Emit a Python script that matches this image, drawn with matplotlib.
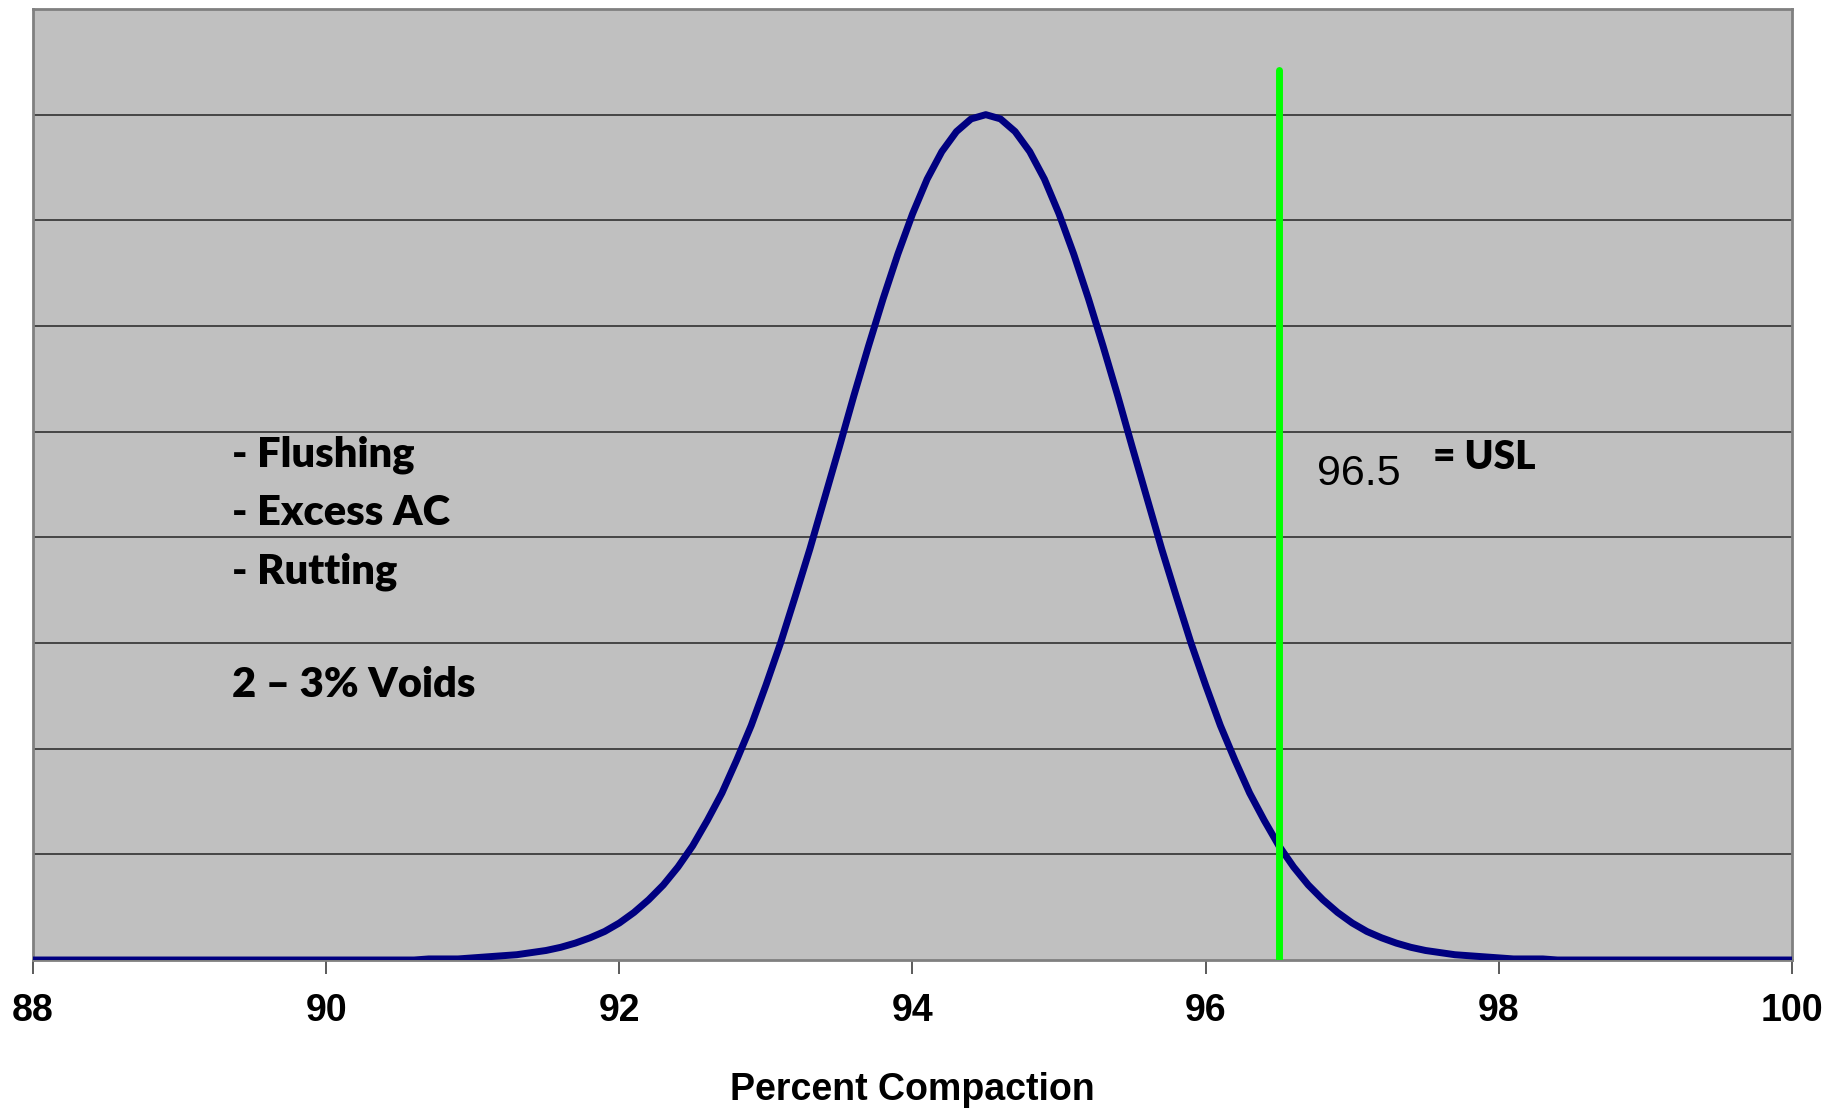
import matplotlib
matplotlib.use("Agg")
import matplotlib.pyplot as plt

# percent compaction (x) and curve height in gridline units (y)
compaction = [88.0,
    90.5, 90.6, 90.7, 90.8, 90.9, 91.0, 91.1, 91.2, 91.3, 91.4,
    91.5, 91.6, 91.7, 91.8, 91.9, 92.0, 92.1, 92.2, 92.3, 92.4,
    92.5, 92.6, 92.7, 92.8, 92.9, 93.0, 93.1, 93.2, 93.3, 93.4,
    93.5, 93.6, 93.7, 93.8, 93.9, 94.0, 94.1, 94.2, 94.3, 94.4,
    94.5, 94.6, 94.7, 94.8, 94.9, 95.0, 95.1, 95.2, 95.3, 95.4,
    95.5, 95.6, 95.7, 95.8, 95.9, 96.0, 96.1, 96.2, 96.3, 96.4,
    96.5, 96.6, 96.7, 96.8, 96.9, 97.0, 97.1, 97.2, 97.3, 97.4,
    97.5, 97.6, 97.7, 97.8, 97.9, 98.0, 98.1, 98.2, 98.3, 98.4,
    98.5, 100.0]
frequency = [0.0,
    0.0, 0.0, 0.01, 0.01, 0.01, 0.02, 0.03, 0.04, 0.05, 0.07,
    0.09, 0.12, 0.16, 0.21, 0.27, 0.35, 0.45, 0.57, 0.71, 0.88,
    1.08, 1.32, 1.58, 1.89, 2.22, 2.60, 3.00, 3.44, 3.89, 4.37,
    4.85, 5.34, 5.81, 6.26, 6.68, 7.06, 7.39, 7.65, 7.84, 7.96,
    8.00, 7.96, 7.84, 7.65, 7.39, 7.06, 6.68, 6.26, 5.81, 5.34,
    4.85, 4.37, 3.89, 3.44, 3.00, 2.60, 2.22, 1.89, 1.58, 1.32,
    1.08, 0.88, 0.71, 0.57, 0.45, 0.35, 0.27, 0.21, 0.16, 0.12,
    0.09, 0.07, 0.05, 0.04, 0.03, 0.02, 0.01, 0.01, 0.01, 0.0,
    0.0, 0.0]
usl = 96.5
usl_top = 8.42
x_ticks = [88, 90, 92, 94, 96, 98, 100]

fig = plt.figure(figsize=(18.3, 11.1), dpi=100)
ax = fig.add_axes([0.01803, 0.13514, 0.96120, 0.85676])
ax.set_facecolor("#C0C0C0")

ax.plot(compaction, frequency, color="#000080", lw=5, solid_joinstyle="round", zorder=3)
ax.plot([usl, usl], [0, usl_top], color="#00FF00", lw=5, solid_capstyle="round", zorder=4)

ax.set_xlim(88, 100)
ax.set_ylim(0, 9)
ax.set_yticks(range(1, 9))
ax.yaxis.grid(True, color="#303030", lw=1.2)
ax.set_axisbelow(True)
ax.tick_params(axis="y", length=0, labelleft=False)
ax.set_xticks(x_ticks)
ax.set_xticklabels([str(t) for t in x_ticks])
ax.tick_params(axis="x", direction="out", length=10, width=1.2, color="#404040", pad=14)
for lab in ax.get_xticklabels():
    lab.set_fontfamily("Liberation Sans")
    lab.set_fontweight("bold")
    lab.set_fontsize(27)
for s in ax.spines.values():
    s.set_color("#808080")
    s.set_linewidth(2)

ax.set_xlabel("Percent Compaction", fontfamily="Liberation Sans", fontweight="bold",
              fontsize=27, labelpad=31)

notes = ["- Flushing", "- Excess AC", "- Rutting"]
note_y = [4.78, 4.23, 3.67]
for t, y in zip(notes, note_y):
    ax.text(89.36, y, t, fontfamily="Lato", fontweight="heavy", fontsize=30, va="center")
ax.text(89.36, 2.60, "2 \u2013 3% Voids", fontfamily="Lato", fontweight="heavy", fontsize=30, va="center")
ax.text(96.76, 4.60, "96.5", fontfamily="Liberation Sans", fontsize=31, va="center")
ax.text(97.55, 4.76, "= USL", fontfamily="Lato", fontweight="heavy", fontsize=28, va="center")

fig.savefig("out.png", dpi=100)
